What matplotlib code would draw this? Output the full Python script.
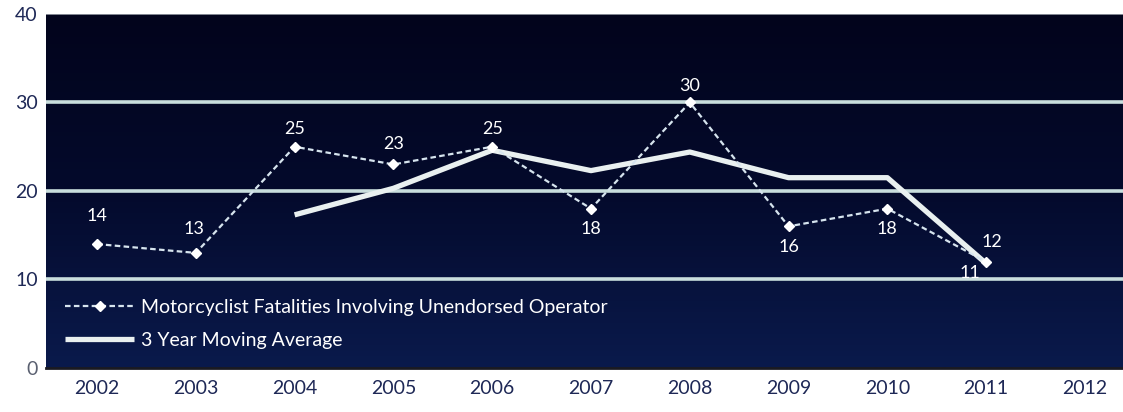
import matplotlib
matplotlib.use("Agg")
import matplotlib.pyplot as plt
import numpy as np
from matplotlib.colors import LinearSegmentedColormap

plt.rcParams['font.family'] = ['Lato', 'DejaVu Sans']

years = [2002, 2003, 2004, 2005, 2006, 2007, 2008, 2009, 2010, 2011]
fatalities = [14, 13, 25, 23, 25, 18, 30, 16, 18, 12]
avg_years = [2004, 2005, 2006, 2007, 2008, 2009, 2010, 2011]
moving_avg = [17.3, 20.3, 24.6, 22.3, 24.4, 21.5, 21.5, 11.8]
xtick_labels = ['2002', '2003', '2004', '2005', '2006', '2007', '2008', '2009', '2010', '2011', '2012']
yticks = [0, 10, 20, 30, 40]

# label placement (offsets in points) for the data labels
fat_offsets = [(0, 20), (-1, 17), (0, 13), (0, 15), (0, 13), (0, -15), (0, 12), (0, -15), (0, -15), (4, 14)]

fig = plt.figure(figsize=(11.23, 4.12), dpi=100)
ax = fig.add_axes([0.041, 0.107, 0.959, 0.859])

xmin, xmax = 2001.484, 2012.385
ax.set_xlim(xmin, xmax)
ax.set_ylim(0, 40)

# background gradient (dark at top, navy at bottom)
cmap = LinearSegmentedColormap.from_list('bg', ['#02041c', '#040a2c', '#0a1a4c'])
grad = np.linspace(0, 1, 256).reshape(-1, 1)
ax.imshow(grad, extent=[xmin, xmax, 0, 40], origin='upper', aspect='auto', cmap=cmap, zorder=0)

for y in [10, 20, 30]:
    ax.axhline(y, color='#c9dedd', lw=2.6, zorder=1)
ax.axhline(40, color='#9aa0a8', lw=1.2, zorder=1)

ax.plot(avg_years, moving_avg, color='#e9f0f0', lw=3.8, solid_capstyle='butt', zorder=2,
        label='3 Year Moving Average')
ax.plot(years, fatalities, color='#d6e4ee', lw=1.6, ls=(0, (2.5, 1.5)), marker='D', ms=5.5,
        mfc='white', mec='white', zorder=3,
        label='Motorcyclist Fatalities Involving Unendorsed Operator')

for x, v, off in zip(years, fatalities, fat_offsets):
    ax.annotate(str(v), (x, v), xytext=off, textcoords='offset points', ha='center', va='center',
                color='white', fontsize=13)
ax.annotate(str(int(moving_avg[-1])), (avg_years[-1], moving_avg[-1]), xytext=(-12, -7),
            textcoords='offset points', ha='center', va='center', color='white', fontsize=13)

handles, labels = ax.get_legend_handles_labels()
leg = ax.legend(handles[::-1], labels[::-1], loc='upper left', bbox_to_anchor=(0.0, 0.249),
                frameon=False, fontsize=14, labelcolor='white', handlelength=3.5,
                handletextpad=0.4, labelspacing=0.82, borderaxespad=0.6)

ax.set_xticks(range(2002, 2013))
ax.set_xticklabels(xtick_labels, fontsize=14, color='#1e2856')
ax.set_yticks(yticks)
ax.set_yticklabels([str(t) for t in yticks], fontsize=14, color='#1e2856')
ax.get_yticklabels()[0].set_color('#5a6070')
ax.tick_params(length=0)
ax.tick_params(axis='x', pad=9)
ax.tick_params(axis='y', pad=6)
for s in ['left', 'right', 'top']:
    ax.spines[s].set_visible(False)
ax.spines['bottom'].set_color('#1a1a22')
ax.spines['bottom'].set_linewidth(2)

fig.savefig('out.png', dpi=100)
